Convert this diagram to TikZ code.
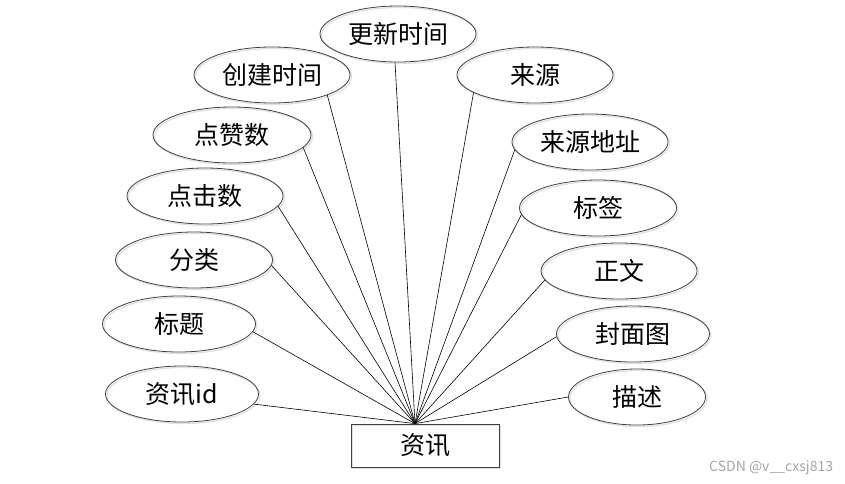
\documentclass[tikz,border=0pt]{standalone}
\usepackage{fontspec}
\setmainfont{Noto Sans CJK SC}
\usetikzlibrary{shapes.geometric}
\begin{document}
\begin{tikzpicture}[x=1pt,y=-1pt,
  attr/.style={ellipse, draw=black!75, line width=0.8pt, minimum height=56pt,
    inner sep=0pt, font=\fontsize{25}{28}\selectfont,
    preaction={draw=black!12, line width=1.2pt, transform canvas={xshift=1.5pt,yshift=-1.5pt}}},
  ent/.style={rectangle, draw=black!75, line width=0.8pt, minimum width=148pt,
    minimum height=43pt, inner sep=0pt, font=\fontsize{25}{28}\selectfont,
    preaction={draw=black!12, line width=1.2pt, transform canvas={xshift=1.5pt,yshift=-1.5pt}}},
  link/.style={draw=black, line width=0.6pt}]
\useasboundingbox (0,0) rectangle (845,483);
\fill[white] (0,0) rectangle (845,483);

\node[ent] (box) at (425,445.5) {资讯};

\node[attr, minimum width=156pt] (gxsj) at (398,34) {更新时间};
\node[attr, minimum width=156pt] (cjsj) at (272,75) {创建时间};
\node[attr, minimum width=158pt] (dzs)  at (232,135) {点赞数};
\node[attr, minimum width=156pt] (djs)  at (205,196) {点击数};
\node[attr, minimum width=157pt] (fl)   at (194,260) {分类};
\node[attr, minimum width=153pt] (bt)   at (179,324) {标题};
\node[attr, minimum width=153pt] (zxid) at (182,394) {资讯id};
\node[attr, minimum width=156pt] (ly)   at (535,75) {来源};
\node[attr, minimum width=156pt] (lydz) at (590,142) {来源地址};
\node[attr, minimum width=157pt] (bq)   at (598,208) {标签};
\node[attr, minimum width=156pt] (zw)   at (619,271) {正文};
\node[attr, minimum width=153pt] (fmt)  at (633,334) {封面图};
\node[attr, minimum width=137pt] (ms)   at (637,397) {描述};

\coordinate (hub) at ([xshift=-10pt]box.north);

\draw[link] (gxsj.-96) -- (hub);
\draw[link] (cjsj.-20) -- (hub);
\draw[link] (dzs.-10) -- (hub);
\draw[link] (djs.-8) -- (hub);
\draw[link] (fl.-4) -- (hub);
\draw[link] (bt.-6) -- (hub);
\draw[link] (zxid.-8) -- (hub);
\draw[link] (ly.-164) -- (hub);
\draw[link] (lydz.-174) -- (hub);
\draw[link] (bq.-175) -- (hub);
\draw[link] (zw.-173) -- (hub);
\draw[link] (fmt.-178) -- (hub);
\draw[link] (ms.180) -- (hub);

\node[anchor=west, text=black!35, font=\fontsize{14}{16}\selectfont, inner sep=0pt] (wm) at (709,468) {CSDN @v\_\_cxsj813};
\end{tikzpicture}
\end{document}
